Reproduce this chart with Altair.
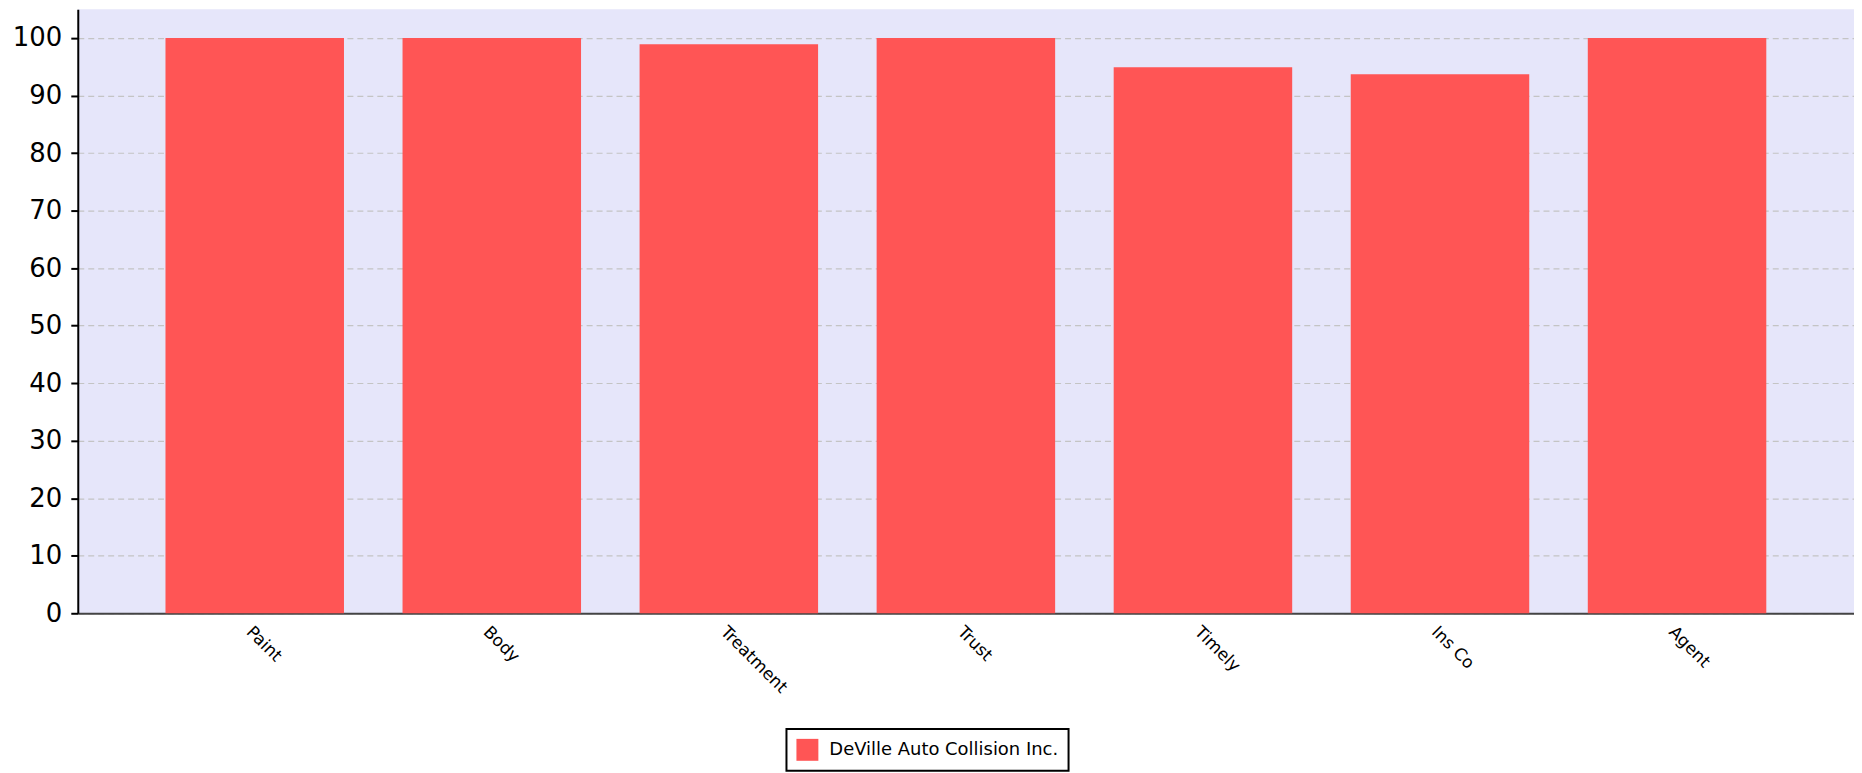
import altair as alt
import pandas as pd

categories = ["Paint", "Body", "Treatment", "Trust", "Timely", "Ins Co", "Agent"]
values = [100, 100, 98.9, 100, 94.9, 93.7, 100]
series_name = "DeVille Auto Collision Inc."
y_ticks = [0, 10, 20, 30, 40, 50, 60, 70, 80, 90, 100]

df = pd.DataFrame({"category": categories, "value": values, "series": [series_name] * len(categories)})

chart = alt.Chart(df).mark_bar(color="#ff5555").encode(
    x=alt.X("category:N", sort=categories, title=None,
            scale=alt.Scale(paddingInner=0.247, paddingOuter=0.37),
            axis=alt.Axis(labelAngle=45, labelFontSize=17, labelFont="DejaVu Sans",
                          labelColor="black", ticks=False, labelPadding=10,
                          domainColor="#444444", domainWidth=2, grid=False)),
    y=alt.Y("value:Q", title=None,
            scale=alt.Scale(domain=[0, 105], nice=False, zero=True),
            axis=alt.Axis(values=y_ticks, labelFontSize=26, labelFont="DejaVu Sans",
                          labelColor="black", labelPadding=9, tickSize=7, tickWidth=2,
                          tickColor="black", domainColor="black", domainWidth=2,
                          grid=True, gridColor="#c4c4c4", gridDash=[6, 4], gridWidth=1.2)),
    color=alt.Color("series:N", title=None,
                    scale=alt.Scale(range=["#ff5555"]),
                    legend=alt.Legend(orient="none", legendX=711, legendY=722,
                                      symbolType="square", symbolSize=484,
                                      symbolStrokeWidth=0, labelFontSize=18,
                                      labelFont="DejaVu Sans", labelColor="black",
                                      labelLimit=600,
                                      labelOffset=11, padding=10, strokeColor="black",
                                      fillColor="white", cornerRadius=0)),
).properties(
    width=1782, height=606,
    autosize=alt.AutoSizeParams(type="none"),
    padding={"left": 70, "top": 0, "right": 0, "bottom": 158},
    background="white",
).configure_view(
    fill="#e6e6fa", stroke=None
).configure_legend(
    strokeWidth=2
)

chart.save("out.html", embed_options={"renderer": "svg", "actions": False})
